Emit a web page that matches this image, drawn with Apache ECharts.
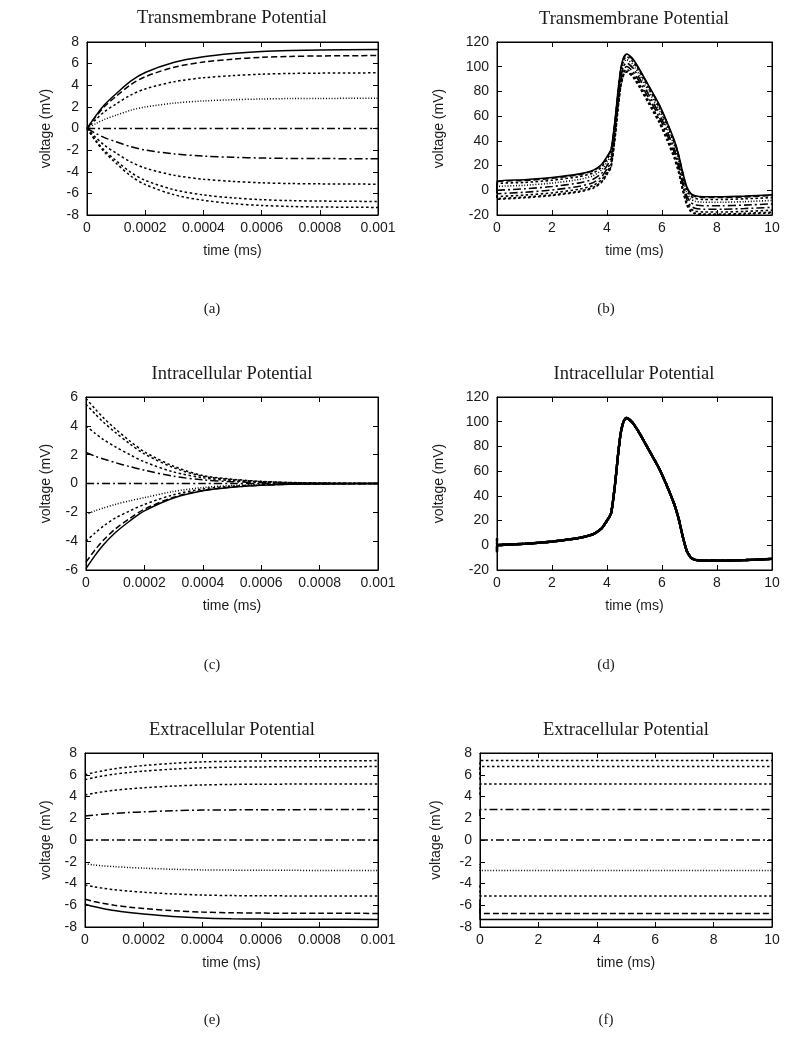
<!DOCTYPE html>
<html>
<head>
<meta charset="utf-8">
<script src="https://cdn.jsdelivr.net/npm/echarts@6/dist/echarts.min.js"></script>
<style>
html,body{margin:0;padding:0;background:#fff;}
#chart{width:800px;height:1043px;}
</style>
</head>
<body>
<div id="chart"></div>
<script>
// ---------- DATA ----------
const TITLES = ['Transmembrane Potential','Transmembrane Potential','Intracellular Potential','Intracellular Potential','Extracellular Potential','Extracellular Potential'];
const CAPTIONS = ['(a)','(b)','(c)','(d)','(e)','(f)'];
const X_NAME = 'time (ms)';
const Y_NAME = 'voltage (mV)';
const X_SHORT_TICKS = ['0','0.0002','0.0004','0.0006','0.0008','0.001'];
const X_LONG_TICKS = ['0','2','4','6','8','10'];

// line style of each of the 9 curves
const STYLES = ['solid','dashed','dotted','finedot','dashdot','dashdot','dotted','dotted','dotted'];

// short time window (ms)
const T_SHORT = [0, 0.00003, 0.00006, 0.0001, 0.00015, 0.0002, 0.0003, 0.0004, 0.0005, 0.0006, 0.0007, 0.0008, 0.001];

const transShort = [
  [0, 1.17, 2.19, 3.21, 4.38, 5.18, 6.13, 6.64, 6.94, 7.12, 7.21, 7.26, 7.3],
  [0, 1.08, 2.03, 2.97, 4.05, 4.79, 5.67, 6.14, 6.41, 6.58, 6.67, 6.71, 6.75],
  [0, 0.82, 1.55, 2.27, 3.09, 3.66, 4.33, 4.69, 4.89, 5.02, 5.09, 5.12, 5.15],
  [0, 0.45, 0.84, 1.23, 1.68, 1.99, 2.35, 2.55, 2.66, 2.73, 2.77, 2.78, 2.8],
  [0, 0, 0, 0, 0, 0, 0, 0, 0, 0, 0, 0, 0],
  [0, -0.45, -0.84, -1.23, -1.68, -1.99, -2.35, -2.55, -2.66, -2.73, -2.77, -2.78, -2.8],
  [0, -0.82, -1.55, -2.27, -3.09, -3.66, -4.33, -4.69, -4.89, -5.02, -5.09, -5.12, -5.15],
  [0, -1.08, -2.03, -2.97, -4.05, -4.79, -5.67, -6.14, -6.41, -6.58, -6.67, -6.71, -6.75],
  [0, -1.17, -2.19, -3.21, -4.38, -5.18, -6.13, -6.64, -6.94, -7.12, -7.21, -7.26, -7.3]
];

const intraShort = [
  [-5.9, -5.02, -4.25, -3.42, -2.6, -1.9, -1.0, -0.5, -0.26, -0.13, -0.06, -0.03, 0],
  [-5.45, -4.63, -3.92, -3.16, -2.42, -1.78, -0.95, -0.48, -0.25, -0.12, -0.05, -0.03, 0],
  [-4, -3.45, -2.95, -2.4, -1.9, -1.45, -0.78, -0.38, -0.19, -0.09, -0.04, -0.02, 0],
  [-2.15, -1.9, -1.7, -1.45, -1.2, -0.98, -0.55, -0.28, -0.14, -0.07, -0.03, -0.01, 0],
  [0, 0, 0, 0, 0, 0, 0, 0, 0, 0, 0, 0, 0],
  [2.15, 1.9, 1.7, 1.45, 1.17, 0.92, 0.5, 0.25, 0.13, 0.06, 0.03, 0.01, 0],
  [4, 3.5, 3.05, 2.55, 2.0, 1.5, 0.8, 0.4, 0.2, 0.1, 0.05, 0.02, 0],
  [5.5, 4.85, 4.25, 3.55, 2.75, 2.05, 1.1, 0.5, 0.27, 0.13, 0.06, 0.03, 0],
  [5.9, 5.2, 4.55, 3.8, 2.95, 2.2, 1.2, 0.55, 0.3, 0.15, 0.07, 0.03, 0]
];

const extraShort = [
  [-5.9, -6.11, -6.29, -6.49, -6.67, -6.81, -7.03, -7.17, -7.24, -7.27, -7.29, -7.29, -7.3],
  [-5.45, -5.65, -5.81, -6.0, -6.17, -6.3, -6.5, -6.63, -6.69, -6.72, -6.74, -6.74, -6.75],
  [-4.15, -4.3, -4.43, -4.57, -4.7, -4.8, -4.96, -5.06, -5.11, -5.13, -5.14, -5.15, -5.15],
  [-2.2, -2.29, -2.37, -2.45, -2.53, -2.59, -2.69, -2.75, -2.77, -2.79, -2.79, -2.8, -2.8],
  [0, 0, 0, 0, 0, 0, 0, 0, 0, 0, 0, 0, 0],
  [2.2, 2.29, 2.37, 2.45, 2.53, 2.59, 2.69, 2.75, 2.77, 2.79, 2.79, 2.8, 2.8],
  [4.15, 4.3, 4.43, 4.57, 4.7, 4.8, 4.96, 5.06, 5.11, 5.13, 5.14, 5.15, 5.15],
  [5.55, 5.73, 5.89, 6.05, 6.21, 6.33, 6.52, 6.64, 6.7, 6.72, 6.74, 6.74, 6.75],
  [6.0, 6.2, 6.36, 6.55, 6.72, 6.85, 7.05, 7.18, 7.24, 7.27, 7.29, 7.29, 7.3]
];

// long time window (ms)
const T_LONG = [0, 0.001, 1, 2, 3, 3.5, 3.8, 4.0, 4.15, 4.3, 4.4, 4.5, 4.6, 4.7, 4.8, 4.95, 5.2, 5.5, 5.9, 6.2, 6.45, 6.6, 6.75, 6.9, 7.05, 7.2, 7.5, 8.2, 9, 10];

const transLong = [
  [0, 7.3, 8.5, 10.3, 13.3, 16.3, 20.9, 27.3, 33.3, 58.3, 80.3, 98.3, 107.3, 110.3, 109.3, 106, 97.3, 85.3, 69.3, 54.3, 40.3, 29.3, 14.8, 2.8, -2.7, -4.4, -5.2, -5.2, -4.7, -3.7],
  [0, 6.7, 7.9, 9.7, 12.7, 15.7, 20.3, 26.7, 32.7, 57.7, 79.7, 97.7, 106.7, 109.7, 108.7, 105.4, 96.7, 84.7, 68.7, 53.7, 39.7, 28.7, 14.2, 2.2, -3.3, -5, -5.8, -5.8, -5.3, -4.3],
  [0, 5.1, 6.3, 8.1, 11.1, 14.1, 18.7, 25.1, 31.1, 56.1, 78.1, 96.1, 105.1, 108.1, 107.1, 103.8, 95.1, 83.1, 67.1, 52.1, 38.1, 27.1, 12.6, 0.6, -4.9, -6.6, -7.4, -7.4, -6.9, -5.9],
  [0, 2.8, 4, 5.8, 8.8, 11.8, 16.4, 22.8, 28.8, 53.8, 75.8, 93.8, 102.8, 105.8, 104.8, 101.5, 92.8, 80.8, 64.8, 49.8, 35.8, 24.8, 10.3, -1.7, -7.2, -8.9, -9.7, -9.7, -9.2, -8.2],
  [0, 0, 1.2, 3, 6, 9, 13.6, 20, 26, 51, 73, 91, 100, 103, 102, 98.7, 90, 78, 62, 47, 33, 22, 7.5, -4.5, -10, -11.7, -12.5, -12.5, -12, -11],
  [0, -2.8, -1.6, 0.2, 3.2, 6.2, 10.8, 17.2, 23.2, 48.2, 70.2, 88.2, 97.2, 100.2, 99.2, 95.9, 87.2, 75.2, 59.2, 44.2, 30.2, 19.2, 4.7, -7.3, -12.8, -14.5, -15.3, -15.3, -14.8, -13.8],
  [0, -5.1, -3.9, -2.1, 0.9, 3.9, 8.5, 14.9, 20.9, 45.9, 67.9, 85.9, 94.9, 97.9, 96.9, 93.6, 84.9, 72.9, 56.9, 41.9, 27.9, 16.9, 2.4, -9.6, -15.1, -16.8, -17.6, -17.6, -17.1, -16.1],
  [0, -6.7, -5.5, -3.7, -0.7, 2.3, 6.9, 13.3, 19.3, 44.3, 66.3, 84.3, 93.3, 96.3, 95.3, 92, 83.3, 71.3, 55.3, 40.3, 26.3, 15.3, 0.8, -11.2, -16.7, -18.4, -19.2, -19.2, -18.7, -17.7],
  [0, -7.3, -6.1, -4.3, -1.3, 1.7, 6.3, 12.7, 18.7, 43.7, 65.7, 83.7, 92.7, 95.7, 94.7, 91.4, 82.7, 70.7, 54.7, 39.7, 25.7, 14.7, 0.2, -11.8, -17.3, -19, -19.8, -19.8, -19.3, -18.3]
];

// intracellular: value at t=0 for each curve, then the common action potential (from T_LONG[1] on)
const intraStart = [-5.9, -5.45, -4, -2.15, 0, 2.15, 4, 5.5, 5.9];
const intraLong = [0, 1.2, 3, 6, 9, 13.6, 20, 26, 51, 73, 91, 100, 103, 102, 98.7, 90, 78, 62, 47, 33, 22, 7.5, -4.5, -10, -11.7, -12.5, -12.5, -12, -11];

// extracellular: value at t=0 and settled level of each curve
const extraStart = [-5.9, -5.45, -4.15, -2.2, 0, 2.2, 4.15, 5.55, 6.0];
const extraLevel = [-7.3, -6.75, -5.15, -2.8, 0, 2.8, 5.15, 6.75, 7.3];

// ---------- BUILD ----------
const DASH = {
  solid: 'solid',
  dashed: [6, 3],
  dotted: [2.5, 2.5],
  finedot: [1, 1.8],
  dashdot: [8, 3, 2, 3]
};

function pairs(ts, vs) { return ts.map((t, j) => [t, vs[j]]); }

const seriesShortTrans = transShort.map(v => pairs(T_SHORT, v));
const seriesLongTrans = transLong.map(v => pairs(T_LONG, v));
const seriesShortIntra = intraShort.map(v => pairs(T_SHORT, v));
const seriesLongIntra = intraStart.map(s => [[T_LONG[0], s]].concat(pairs(T_LONG.slice(1), intraLong)));
const seriesShortExtra = extraShort.map(v => pairs(T_SHORT, v));
const seriesLongExtra = extraStart.map((s, k) => [[T_LONG[0], s], [T_LONG[1], extraLevel[k]], [T_LONG[T_LONG.length - 1], extraLevel[k]]]);

const panels = [
  {grid: [87, 42, 291, 173], tx: 232, ty: 18, cx: 212, cy: 309, xs: 'short', y: [-8, 8, 2], yGap: 34, lw: 1.5, sm: 0.3, data: seriesShortTrans},
  {grid: [497, 42, 275, 173], tx: 634, ty: 19, cx: 606, cy: 309, xs: 'long', y: [-20, 120, 20], yGap: 51, lw: 1.6, sm: 0.2, data: seriesLongTrans},
  {grid: [86, 397, 292, 173], tx: 232, ty: 374, cx: 212, cy: 665, xs: 'short', y: [-6, 6, 2], yGap: 33, lw: 1.5, sm: 0.3, data: seriesShortIntra},
  {grid: [497, 397, 275, 173], tx: 634, ty: 374, cx: 606, cy: 665, xs: 'long', y: [-20, 120, 20], yGap: 51, lw: 2.3, sm: 0.2, data: seriesLongIntra},
  {grid: [85, 753, 293, 174], tx: 232, ty: 730, cx: 212, cy: 1020, xs: 'short', y: [-8, 8, 2], yGap: 32, lw: 1.5, sm: 0.3, data: seriesShortExtra},
  {grid: [480, 753, 292, 174], tx: 626, ty: 730, cx: 606, cy: 1020, xs: 'long', y: [-8, 8, 2], yGap: 37, lw: 1.5, sm: false, data: seriesLongExtra}
];

const SANS = '"Liberation Sans", Arial, Helvetica, sans-serif';
const SERIF = '"Liberation Serif", "Times New Roman", serif';
const TXT = '#1a1a1a';

const grids = [], xAxes = [], yAxes = [], series = [], graphics = [];

panels.forEach((p, i) => {
  grids.push({left: p.grid[0], top: p.grid[1], width: p.grid[2], height: p.grid[3],
    show: true, borderColor: '#000', borderWidth: 1, containLabel: false});
  const short = p.xs === 'short';
  const xmin = 0, xmax = short ? 0.001 : 10, xint = short ? 0.0002 : 2;
  const ticks = short ? X_SHORT_TICKS : X_LONG_TICKS;
  const tickStyle = {show: true, inside: true, length: 5, lineStyle: {color: '#000', width: 1}};
  xAxes.push({
    type: 'value', gridIndex: i, position: 'bottom', min: xmin, max: xmax, interval: xint,
    axisLine: {show: true, onZero: false, lineStyle: {color: '#000', width: 1}},
    axisTick: tickStyle, splitLine: {show: false},
    axisLabel: {show: true, margin: 6, color: TXT, fontFamily: SANS, fontSize: 14,
      formatter: v => ticks[Math.round((v - xmin) / xint)]},
    name: X_NAME, nameLocation: 'middle', nameGap: 29,
    nameTextStyle: {color: TXT, fontFamily: SANS, fontSize: 14}
  });
  xAxes.push({
    type: 'value', gridIndex: i, position: 'top', min: xmin, max: xmax, interval: xint,
    axisLine: {show: true, onZero: false, lineStyle: {color: '#000', width: 1}},
    axisTick: tickStyle, splitLine: {show: false}, axisLabel: {show: false}
  });
  yAxes.push({
    type: 'value', gridIndex: i, position: 'left', min: p.y[0], max: p.y[1], interval: p.y[2],
    axisLine: {show: true, onZero: false, lineStyle: {color: '#000', width: 1}},
    axisTick: tickStyle, splitLine: {show: false},
    axisLabel: {show: true, margin: 8, color: TXT, fontFamily: SANS, fontSize: 14},
    name: Y_NAME, nameLocation: 'middle', nameGap: p.yGap,
    nameTextStyle: {color: TXT, fontFamily: SANS, fontSize: 14}
  });
  yAxes.push({
    type: 'value', gridIndex: i, position: 'right', min: p.y[0], max: p.y[1], interval: p.y[2],
    axisLine: {show: true, onZero: false, lineStyle: {color: '#000', width: 1}},
    axisTick: tickStyle, splitLine: {show: false}, axisLabel: {show: false}
  });
  p.data.forEach((d, k) => {
    series.push({
      type: 'line', xAxisIndex: i * 2, yAxisIndex: i * 2, data: d,
      showSymbol: false, symbol: 'none', smooth: p.sm, clip: true,
      lineStyle: {color: '#000', width: p.lw, type: DASH[STYLES[k]]},
      silent: true
    });
  });
  graphics.push({type: 'text', x: p.tx, y: p.ty, style: {text: TITLES[i], fill: TXT,
    font: '18.5px ' + SERIF, textAlign: 'center', textVerticalAlign: 'middle'}});
  graphics.push({type: 'text', x: p.cx, y: p.cy, style: {text: CAPTIONS[i], fill: TXT,
    font: '15px ' + SERIF, textAlign: 'center', textVerticalAlign: 'middle'}});
});

const chart = echarts.init(document.getElementById('chart'), null, {renderer: 'canvas'});
chart.setOption({
  animation: false,
  backgroundColor: '#fff',
  grid: grids, xAxis: xAxes, yAxis: yAxes, series: series, graphic: graphics
});
</script>
</body>
</html>
